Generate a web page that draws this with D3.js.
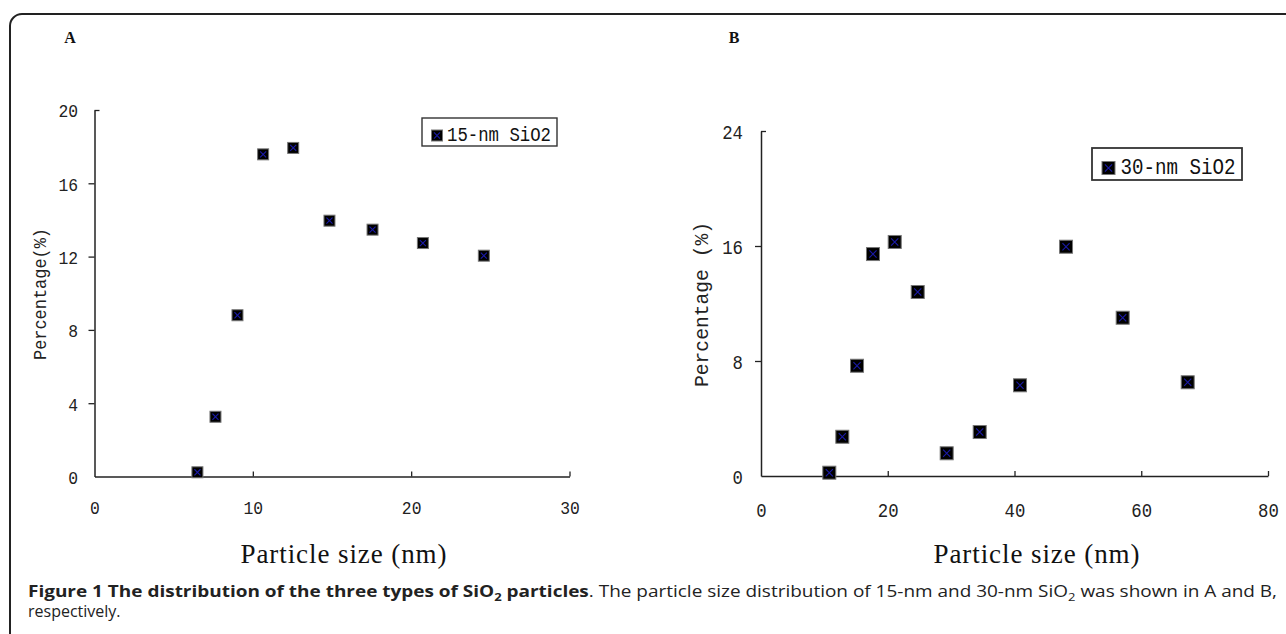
<!DOCTYPE html>
<html>
<head>
<meta charset="utf-8">
<script src="https://cdn.jsdelivr.net/npm/d3@7"></script>
<style>
  html, body { margin: 0; padding: 0; background: #fff; }
  svg { display: block; }
</style>
</head>
<body>
<svg id="chart" width="1286" height="634"></svg>
<script>
// ---- Data ----
const sizeA = [6.50, 7.64, 9.03, 10.65, 12.55, 14.84, 17.56, 20.74, 24.59];
const pctA  = [0.23, 3.26, 8.80, 17.58, 17.93, 13.96, 13.47, 12.74, 12.05];
const sizeB = [10.78, 12.83, 15.15, 17.67, 21.10, 24.73, 29.30, 34.51, 40.87, 48.13, 57.07, 67.33];
const pctB  = [0.23, 2.73, 7.67, 15.44, 16.28, 12.80, 1.58, 3.06, 6.31, 15.95, 11.01, 6.52];
const xTicksA = [0, 10, 20, 30];
const yTicksA = [0, 4, 8, 12, 16, 20];
const xTicksB = [0, 20, 40, 60, 80];
const yTicksB = [0, 8, 16, 24];
const seriesA = "15-nm SiO2";
const seriesB = "30-nm SiO2";
const xTitle = "Particle size (nm)";
const yTitleA = "Percentage(%)";
const yTitleB = "Percentage (%)";

const svg = d3.select("#chart");
const mono = "'Liberation Mono', 'DejaVu Sans Mono', monospace";
const serif = "'Liberation Serif', 'DejaVu Serif', serif";

// frame
svg.append("rect").attr("x", 10).attr("y", 14).attr("width", 1400).attr("height", 700)
  .attr("rx", 12).attr("fill", "none").attr("stroke", "#222").attr("stroke-width", 2);

function marker(g, cx, cy, s) {
  const h = s / 2;
  g.append("rect").attr("x", cx - h).attr("y", cy - h).attr("width", s).attr("height", s)
    .attr("fill", "#000").attr("stroke", "#777").attr("stroke-width", 1);
  const k = h * 0.55;
  g.append("path").attr("d", `M${cx-k},${cy-k}L${cx+k},${cy+k}M${cx+k},${cy-k}L${cx-k},${cy+k}`)
    .attr("stroke", "#1a1aa8").attr("stroke-width", 1.1).attr("fill", "none");
}

function panel(cfg) {
  const x = d3.scaleLinear().domain(cfg.xDomain).range([cfg.x0, cfg.x1]);
  const y = d3.scaleLinear().domain(cfg.yDomain).range([cfg.y0, cfg.y1]);
  const g = svg.append("g");

  // y axis
  const ya = g.append("g").attr("transform", `translate(${cfg.x0},0)`)
    .call(d3.axisLeft(y).tickValues(cfg.yTicks).tickSize(6).tickSizeOuter(0).tickPadding(0));
  ya.select(".domain").attr("stroke", "#222").attr("stroke-width", 1.5);
  ya.selectAll(".tick line").attr("stroke", "#222").attr("stroke-width", 1.3)
    .attr("x2", d => d === cfg.yTicks[cfg.yTicks.length - 1] ? 5 : (d === 0 ? 0 : -6));
  ya.selectAll(".tick text").attr("x", cfg.yLabelX - cfg.x0).attr("dy", "0.36em")
    .attr("font-family", mono).attr("font-size", cfg.tickFont).attr("fill", "#222")
    .attr("text-anchor", "end")
    .attr("textLength", d => String(d).length * cfg.charW).attr("lengthAdjust", "spacingAndGlyphs");

  // x axis
  const xa = g.append("g").attr("transform", `translate(0,${cfg.y0})`)
    .call(d3.axisBottom(x).tickValues(cfg.xTicks).tickSize(-5).tickSizeOuter(0).tickPadding(0));
  xa.select(".domain").attr("stroke", "#222").attr("stroke-width", 1.5);
  xa.selectAll(".tick line").attr("stroke", "#222").attr("stroke-width", 1.3)
    .attr("y2", d => d === 0 ? 0 : -5);
  xa.selectAll(".tick text").attr("y", cfg.xLabelY - cfg.y0).attr("dy", "0.36em")
    .attr("font-family", mono).attr("font-size", cfg.tickFont).attr("fill", "#222")
    .attr("textLength", d => String(d).length * cfg.charW).attr("lengthAdjust", "spacingAndGlyphs");

  // points
  const pg = g.append("g");
  cfg.xs.forEach((v, i) => marker(pg, x(v), y(cfg.ys[i]), cfg.ms));

  // legend
  const L = cfg.legend;
  g.append("rect").attr("x", L.x).attr("y", L.y).attr("width", L.w).attr("height", L.h)
    .attr("fill", "#fff").attr("stroke", "#333").attr("stroke-width", L.sw);
  marker(g, L.mx, L.my, L.ms);
  g.append("text").attr("x", L.tx).attr("y", L.ty).attr("dy", "0.36em")
    .attr("font-family", mono).attr("font-size", L.font).attr("fill", "#111")
    .attr("textLength", L.tl).attr("lengthAdjust", "spacingAndGlyphs").text(cfg.name);

  // titles
  g.append("text").attr("x", cfg.xtX).attr("y", 563).attr("text-anchor", "middle")
    .attr("font-family", serif).attr("font-size", 27).attr("fill", "#111")
    .attr("textLength", 206).attr("lengthAdjust", "spacing").text(xTitle);
  g.append("text").attr("transform", `translate(${cfg.ytX},${cfg.ytY}) rotate(-90)`)
    .attr("text-anchor", "middle").attr("dy", "0.36em")
    .attr("font-family", mono).attr("font-size", cfg.ytFont).attr("fill", "#222")
    .attr("textLength", cfg.ytLen).attr("lengthAdjust", "spacingAndGlyphs").text(cfg.yTitle);
  g.append("text").attr("x", cfg.labX).attr("y", 43).attr("text-anchor", "middle")
    .attr("font-family", serif).attr("font-weight", "bold").attr("font-size", 16)
    .attr("fill", "#111").text(cfg.label);
}

panel({
  label: "A", labX: 70, name: seriesA, yTitle: yTitleA,
  xDomain: [0, 30], yDomain: [0, 20], x0: 94.5, x1: 569.5, y0: 476.5, y1: 110,
  xTicks: xTicksA, yTicks: yTicksA, xs: sizeA, ys: pctA, ms: 11,
  tickFont: 19, charW: 9.8, yLabelX: 78, xLabelY: 507,
  legend: { x: 422, y: 118, w: 135, h: 28, sw: 1.4, mx: 437, my: 135.5, ms: 11,
            tx: 447, ty: 134, font: 20, tl: 104 },
  xtX: 343.5, ytX: 39, ytY: 294, ytFont: 19, ytLen: 132
});

panel({
  label: "B", labX: 734, name: seriesB, yTitle: yTitleB,
  xDomain: [0, 80], yDomain: [0, 24], x0: 761, x1: 1268, y0: 476, y1: 131,
  xTicks: xTicksB, yTicks: yTicksB, xs: sizeB, ys: pctB, ms: 13,
  tickFont: 20, charW: 10.4, yLabelX: 743, xLabelY: 510,
  legend: { x: 1092, y: 148, w: 150, h: 32, sw: 1.8, mx: 1108.5, my: 168, ms: 13,
            tx: 1120.5, ty: 166, font: 22, tl: 115 },
  xtX: 1036.5, ytX: 700, ytY: 304.5, ytFont: 21, ytLen: 165
});

// caption
const cap = svg.append("text").attr("x", 28).attr("y", 597)
  .attr("font-family", "'Open Sans', 'Noto Sans', sans-serif").attr("font-size", 16).attr("fill", "#222")
  .attr("textLength", 1249).attr("lengthAdjust", "spacingAndGlyphs");
cap.append("tspan").attr("font-weight", "bold").text("Figure 1 The distribution of the three types of SiO");
cap.append("tspan").attr("font-weight", "bold").attr("font-size", 11).attr("dy", 4).text("2");
cap.append("tspan").attr("font-weight", "bold").attr("dy", -4).text(" particles");
cap.append("tspan").text(". The particle size distribution of 15-nm and 30-nm SiO");
cap.append("tspan").attr("font-size", 11).attr("dy", 4).text("2");
cap.append("tspan").attr("dy", -4).text(" was shown in A and B,");
svg.append("text").attr("x", 28).attr("y", 617)
  .attr("font-family", "'Open Sans', 'Noto Sans', sans-serif").attr("font-size", 16).attr("fill", "#222")
  .text("respectively.");
</script>
</body>
</html>
